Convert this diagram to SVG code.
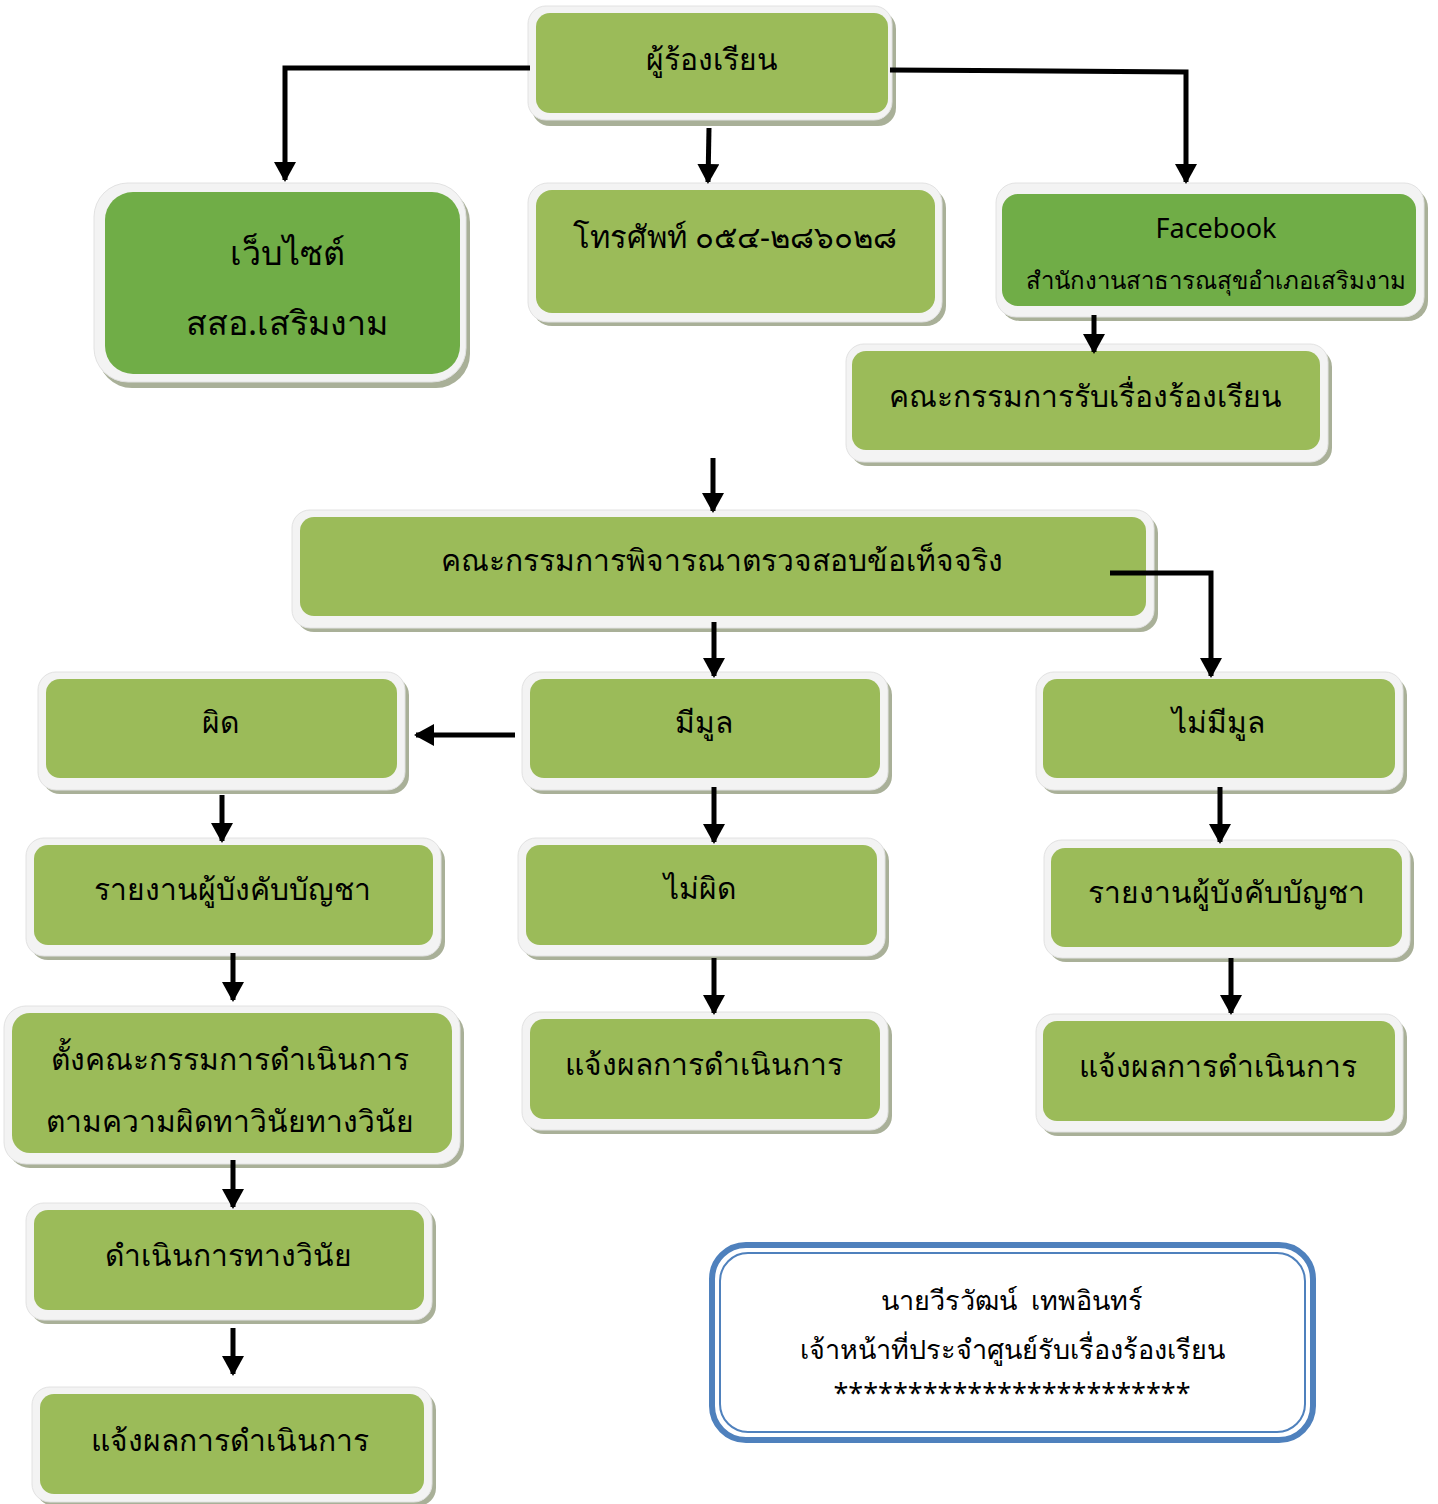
<svg xmlns="http://www.w3.org/2000/svg" width="1438" height="1504" viewBox="0 0 1438 1504">
<style>
.sh{fill:#a9b098}
.out{fill:#f3f3f3;stroke:#e2e2e2;stroke-width:1}
.lg{fill:#9bbb59}
.dg{fill:#70ad47}
text{font-family:"Noto Sans","DejaVu Sans",sans-serif;fill:#000;text-anchor:middle}
.t{font-size:30px}
.c line,.c polyline{stroke:#000;stroke-width:5;fill:none}
</style>
<defs>
<marker id="ah" markerUnits="userSpaceOnUse" markerWidth="22" markerHeight="24" refX="18" refY="11" orient="auto">
<path d="M0,0 L20,11 L0,22 Z" fill="#000"/>
</marker>
</defs>
<rect width="1438" height="1504" fill="#fff"/>

<g id="n1">
<rect class="sh" x="532" y="11" width="364" height="115" rx="18"/>
<rect class="out" x="528" y="6" width="364" height="114" rx="18"/>
<rect class="lg" x="536" y="13" width="352" height="100" rx="14"/>
<text class="t" x="712" y="70">ผู้ร้องเรียน</text>
</g>

<g id="n2">
<rect class="sh" x="98" y="188" width="372" height="200" rx="34"/>
<rect class="out" x="94" y="183" width="372" height="199" rx="34"/>
<rect class="dg" x="105" y="192" width="355" height="182" rx="28"/>
<text class="t" x="287" y="265" style="font-size:34px">เว็บไซต์</text>
<text class="t" x="287" y="335" style="font-size:34px">สสอ.เสริมงาม</text>
</g>

<g id="n3">
<rect class="sh" x="532" y="188" width="414" height="138" rx="20"/>
<rect class="out" x="528" y="183" width="414" height="139" rx="20"/>
<rect class="lg" x="536" y="190" width="399" height="123" rx="16"/>
<text class="t" x="735" y="248" style="font-size:31px">โทรศัพท์ ๐๕๔-๒๘๖๐๒๘</text>
</g>

<g id="n4">
<rect class="sh" x="1000" y="188" width="428" height="133" rx="20"/>
<rect class="out" x="996" y="183" width="428" height="134" rx="20"/>
<rect class="dg" x="1002" y="194" width="414" height="112" rx="16"/>
<text x="1216" y="238" style="font-size:27px">Facebook</text>
<text x="1216" y="289" style="font-size:24px">สำนักงานสาธารณสุขอำเภอเสริมงาม</text>
</g>

<g id="n5">
<rect class="sh" x="850" y="349" width="482" height="117" rx="18"/>
<rect class="out" x="846" y="344" width="482" height="118" rx="18"/>
<rect class="lg" x="852" y="351" width="468" height="99" rx="14"/>
<text class="t" x="1085" y="407">คณะกรรมการรับเรื่องร้องเรียน</text>
</g>

<g id="n6">
<rect class="sh" x="296" y="515" width="862" height="117" rx="18"/>
<rect class="out" x="292" y="510" width="862" height="118" rx="18"/>
<rect class="lg" x="300" y="517" width="846" height="99" rx="14"/>
<text class="t" x="722" y="571">คณะกรรมการพิจารณาตรวจสอบข้อเท็จจริง</text>
</g>

<g id="n7">
<rect class="sh" x="42" y="677" width="367" height="117" rx="18"/>
<rect class="out" x="38" y="672" width="367" height="118" rx="18"/>
<rect class="lg" x="46" y="679" width="351" height="99" rx="14"/>
<text class="t" x="220" y="733">ผิด</text>
</g>

<g id="n8">
<rect class="sh" x="526" y="677" width="366" height="117" rx="18"/>
<rect class="out" x="522" y="672" width="366" height="118" rx="18"/>
<rect class="lg" x="530" y="679" width="350" height="99" rx="14"/>
<text class="t" x="704" y="733">มีมูล</text>
</g>

<g id="n9">
<rect class="sh" x="1040" y="677" width="367" height="117" rx="18"/>
<rect class="out" x="1036" y="672" width="367" height="118" rx="18"/>
<rect class="lg" x="1043" y="679" width="352" height="99" rx="14"/>
<text class="t" x="1218" y="733">ไม่มีมูล</text>
</g>

<g id="n10">
<rect class="sh" x="30" y="843" width="415" height="117" rx="18"/>
<rect class="out" x="26" y="838" width="415" height="118" rx="18"/>
<rect class="lg" x="34" y="845" width="399" height="100" rx="14"/>
<text class="t" x="232" y="900">รายงานผู้บังคับบัญชา</text>
</g>

<g id="n11">
<rect class="sh" x="522" y="843" width="367" height="117" rx="18"/>
<rect class="out" x="518" y="838" width="367" height="118" rx="18"/>
<rect class="lg" x="526" y="845" width="351" height="100" rx="14"/>
<text class="t" x="700" y="899">ไม่ผิด</text>
</g>

<g id="n12">
<rect class="sh" x="1048" y="845" width="366" height="117" rx="18"/>
<rect class="out" x="1044" y="840" width="366" height="118" rx="18"/>
<rect class="lg" x="1051" y="848" width="351" height="99" rx="14"/>
<text class="t" x="1226" y="903">รายงานผู้บังคับบัญชา</text>
</g>

<g id="n13">
<rect class="sh" x="8" y="1011" width="456" height="157" rx="22"/>
<rect class="out" x="4" y="1006" width="456" height="158" rx="22"/>
<rect class="lg" x="12" y="1013" width="440" height="140" rx="18"/>
<text class="t" x="230" y="1070">ตั้งคณะกรรมการดำเนินการ</text>
<text class="t" x="230" y="1132">ตามความผิดทาวินัยทางวินัย</text>
</g>

<g id="n14">
<rect class="sh" x="526" y="1017" width="366" height="117" rx="18"/>
<rect class="out" x="522" y="1012" width="366" height="118" rx="18"/>
<rect class="lg" x="530" y="1019" width="350" height="100" rx="14"/>
<text class="t" x="704" y="1075">แจ้งผลการดำเนินการ</text>
</g>

<g id="n15">
<rect class="sh" x="1040" y="1019" width="367" height="117" rx="18"/>
<rect class="out" x="1036" y="1014" width="367" height="118" rx="18"/>
<rect class="lg" x="1043" y="1021" width="352" height="100" rx="14"/>
<text class="t" x="1218" y="1077">แจ้งผลการดำเนินการ</text>
</g>

<g id="n16">
<rect class="sh" x="30" y="1208" width="406" height="116" rx="18"/>
<rect class="out" x="26" y="1203" width="406" height="117" rx="18"/>
<rect class="lg" x="34" y="1210" width="390" height="100" rx="14"/>
<text class="t" x="228" y="1266">ดำเนินการทางวินัย</text>
</g>

<g id="n17">
<rect class="sh" x="36" y="1392" width="400" height="114" rx="18"/>
<rect class="out" x="32" y="1387" width="400" height="115" rx="18"/>
<rect class="lg" x="40" y="1394" width="384" height="100" rx="14"/>
<text class="t" x="230" y="1451">แจ้งผลการดำเนินการ</text>
</g>

<g id="n18">
<rect x="712" y="1245" width="601" height="195" rx="34" fill="#fff" stroke="#4f81bd" stroke-width="6"/>
<rect x="720" y="1253" width="585" height="179" rx="28" fill="none" stroke="#4f81bd" stroke-width="2"/>
<text x="1012" y="1310" style="font-size:27px">นายวีรวัฒน์&#160; เทพอินทร์</text>
<text x="1012" y="1359" style="font-size:27px">เจ้าหน้าที่ประจำศูนย์รับเรื่องร้องเรียน</text>
<text x="1012" y="1403" style="font-size:27px">************************</text>
</g>

<g class="c" id="connectors">
<polyline points="530,68 285,68 285,180" marker-end="url(#ah)"/>
<line x1="709" y1="128" x2="708" y2="182" marker-end="url(#ah)"/>
<polyline points="890,70 1186,72 1186,182" marker-end="url(#ah)"/>
<line x1="1094" y1="315" x2="1094" y2="352" marker-end="url(#ah)"/>
<line x1="713" y1="458" x2="713" y2="511" marker-end="url(#ah)"/>
<line x1="714" y1="622" x2="714" y2="676" marker-end="url(#ah)"/>
<polyline points="1110,573 1211,573 1211,676" marker-end="url(#ah)"/>
<line x1="515" y1="735" x2="416" y2="735" marker-end="url(#ah)"/>
<line x1="222" y1="795" x2="222" y2="841" marker-end="url(#ah)"/>
<line x1="714" y1="787" x2="714" y2="842" marker-end="url(#ah)"/>
<line x1="1220" y1="787" x2="1220" y2="842" marker-end="url(#ah)"/>
<line x1="233" y1="953" x2="233" y2="1000" marker-end="url(#ah)"/>
<line x1="714" y1="958" x2="714" y2="1013" marker-end="url(#ah)"/>
<line x1="1231" y1="958" x2="1231" y2="1013" marker-end="url(#ah)"/>
<line x1="233" y1="1160" x2="233" y2="1207" marker-end="url(#ah)"/>
<line x1="233" y1="1328" x2="233" y2="1374" marker-end="url(#ah)"/>
</g>
</svg>
